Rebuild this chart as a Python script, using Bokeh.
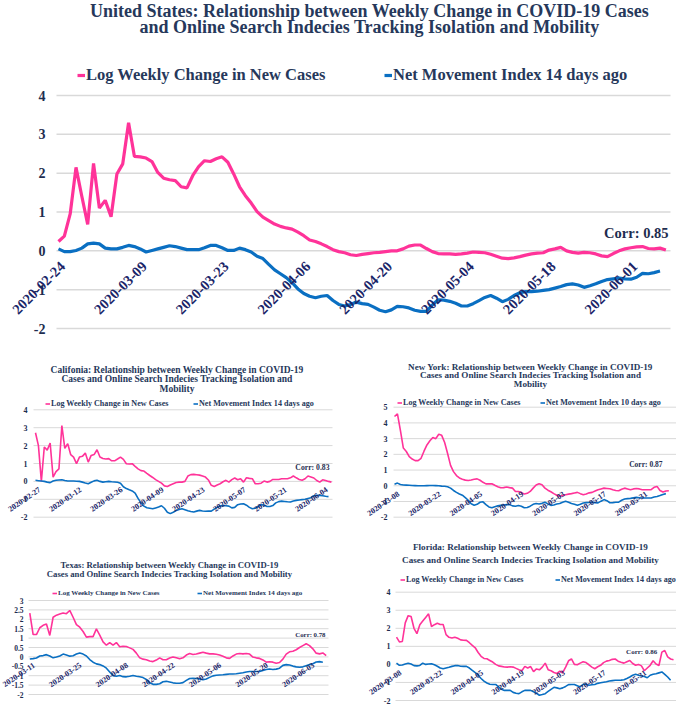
import math
import pandas as pd
from bokeh.plotting import figure
from bokeh.models import Range1d, Legend, LegendItem, ColumnDataSource
from bokeh.layouts import column, row
from bokeh.embed import file_html
from bokeh.resources import INLINE
from bokeh.core.properties import value

# ---------------- data ----------------
SERIES_NAMES = ["Log Weekly Change in New Cases", "Net Movement Index 14 days ago"]
SERIES_NAMES_NY = ["Log Weekly Change in New Cases", "Net Movement Index 10 days ago"]

us_title = ["United States: Relationship between Weekly Change in COVID-19 Cases",
            "and Online Search Indecies Tracking Isolation and Mobility"]
ca_title = ["Califonia: Relationship between Weekly Change in COVID-19",
            "Cases and Online Search Indecies Tracking Isolation and",
            "Mobility"]
ny_title = ["New York: Relationship between Weekly Change in COVID-19",
            "Cases and Online Search Indecies Tracking Isolation and",
            "Mobility"]
tx_title = ["Texas: Relationship between Weekly Change in COVID-19",
            "Cases and Online Search Indecies Tracking Isolation and Mobility"]
fl_title = ["Florida: Relationship between Weekly Change in COVID-19",
            "Cases and Online Search Indecies Tracking Isolation and Mobility"]

us_corr = "Corr: 0.85"
ca_corr = "Corr: 0.83"
ny_corr = "Corr: 0.87"
tx_corr = "Corr: 0.78"
fl_corr = "Corr: 0.86"

us_ticks = ["2020-02-24", "2020-03-09", "2020-03-23", "2020-04-06", "2020-04-20",
            "2020-05-04", "2020-05-18", "2020-06-01"]
ca_ticks = ["2020-02-27", "2020-03-12", "2020-03-26", "2020-04-09", "2020-04-23",
            "2020-05-07", "2020-05-21", "2020-06-04"]
ny_ticks = ["2020-03-08", "2020-03-22", "2020-04-05", "2020-04-19", "2020-05-03",
            "2020-05-17", "2020-05-31"]
tx_ticks = ["2020-03-11", "2020-03-25", "2020-04-08", "2020-04-22", "2020-05-06",
            "2020-05-20", "2020-06-03"]
fl_ticks = ["2020-03-08", "2020-03-22", "2020-04-05", "2020-04-19", "2020-05-03",
            "2020-05-17", "2020-05-31"]

int_yticks = [-2, -1, 0, 1, 2, 3, 4]
int_ylabels = ["-2", "-1", "0", "1", "2", "3", "4"]
ny_yticks = [-2, -1, 0, 1, 2, 3, 4, 5]
ny_ylabels = ["-2", "-1", "0", "1", "2", "3", "4", "5"]
tx_yticks = [-2, -1.5, -1, -0.5, 0, 0.5, 1, 1.5, 2, 2.5, 3]
tx_ylabels = ["-2", "-1.5", "-1", "-0.5", "0", "0.5", "1", "1.5", "2", "2.5", "3"]

us_cases = [0.24, 0.38, 0.95, 2.15, 1.4, 0.68, 2.25, 1.1, 1.3, 0.88,
            1.98, 2.24, 3.3, 2.43, 2.42, 2.39, 2.3, 2.02, 1.87, 1.83,
            1.81, 1.65, 1.62, 1.94, 2.17, 2.32, 2.3, 2.37, 2.42, 2.28,
            1.98, 1.65, 1.42, 1.23, 1.01, 0.87, 0.78, 0.69, 0.63, 0.59,
            0.56, 0.48, 0.39, 0.28, 0.24, 0.18, 0.11, 0.03, -0.02, -0.05,
            -0.1, -0.12, -0.09, -0.07, -0.05, -0.04, -0.02, 0.0, 0.0, 0.05,
            0.12, 0.15, 0.15, 0.06, -0.02, -0.07, -0.08, -0.08, -0.09, -0.08,
            -0.06, -0.03, -0.04, -0.05, -0.09, -0.14, -0.19, -0.2, -0.18, -0.15,
            -0.11, -0.08, -0.06, -0.05, 0.02, 0.05, 0.09, 0.0, -0.04, -0.06,
            -0.04, -0.05, -0.08, -0.13, -0.15, -0.07, 0.0, 0.05, 0.08, 0.1,
            0.11, 0.06, 0.05, 0.07, 0.02]
us_move = [0.05, -0.02, -0.02, 0.01, 0.07, 0.18, 0.2, 0.18, 0.07, 0.05,
           0.05, 0.09, 0.14, 0.11, 0.05, -0.03, 0.01, 0.05, 0.09, 0.13,
           0.11, 0.07, 0.03, 0.03, 0.03, 0.08, 0.14, 0.14, 0.08, 0.01,
           0.01, 0.07, 0.03, -0.03, -0.14, -0.2, -0.35, -0.49, -0.59, -0.69,
           -0.82, -0.98, -1.1, -1.17, -1.21, -1.17, -1.15, -1.28, -1.38, -1.42,
           -1.38, -1.32, -1.36, -1.38, -1.45, -1.53, -1.57, -1.52, -1.43, -1.44,
           -1.47, -1.53, -1.56, -1.56, -1.4, -1.26, -1.27, -1.3, -1.35, -1.42,
           -1.42, -1.36, -1.28, -1.2, -1.15, -1.22, -1.31, -1.25, -1.15, -1.08,
           -1.05, -1.05, -1.04, -1.02, -1.0, -0.96, -0.92, -0.87, -0.85, -0.88,
           -0.94, -0.9, -0.85, -0.79, -0.74, -0.72, -0.7, -0.72, -0.73, -0.68,
           -0.58, -0.59, -0.56, -0.52]

ca_cases = [2.72, 2.0, 0.0, 1.92, 1.75, 2.14, 0.24, 0.55, 0.7, 3.12,
            1.85, 2.1, 1.5, 1.36, 0.99, 1.36, 1.4, 1.58, 1.08, 1.45,
            1.5, 1.77, 1.36, 1.28, 1.25, 1.27, 1.15, 1.15, 1.25, 1.36,
            1.23, 0.99, 0.97, 0.99, 0.84, 0.7, 0.6, 0.58, 0.45, 0.33,
            0.22, 0.1, 0.0, -0.1, -0.25, -0.28, -0.2, -0.13, -0.06, -0.04,
            -0.04, 0.0, 0.3, 0.38, 0.39, 0.37, 0.35, 0.3, 0.24, 0.08,
            -0.22, -0.28, -0.2, -0.13, -0.02, 0.06, -0.04, 0.1, 0.19, 0.09,
            0.15, -0.04, 0.2, 0.17, 0.15, -0.13, -0.13, -0.1, 0.02, -0.04,
            0.0, 0.11, 0.11, 0.11, 0.15, 0.15, 0.15, 0.2, 0.3, 0.2,
            0.11, 0.06, 0.15, 0.3, 0.25, 0.19, 0.05, -0.04, 0.09, 0.05,
            0.0, -0.04]
ca_move = [0.06, 0.04, 0.02, 0.0, -0.04, -0.07, 0.02, 0.06, 0.08, 0.09,
           0.05, 0.02, 0.02, 0.02, 0.01, 0.0, -0.04, -0.09, -0.13, -0.05,
           0.03, 0.06, 0.0, -0.04, -0.02, 0.0, -0.02, -0.03, -0.05, -0.1,
           -0.3, -0.4, -0.47, -0.53, -0.65, -0.95, -1.2, -1.38, -1.47, -1.5,
           -1.53, -1.48, -1.43, -1.36, -1.5, -1.72, -1.8, -1.72, -1.63, -1.57,
           -1.53, -1.58, -1.64, -1.68, -1.71, -1.66, -1.62, -1.65, -1.67, -1.66,
           -1.66, -1.55, -1.45, -1.38, -1.34, -1.36, -1.38, -1.48, -1.45, -1.3,
           -1.26, -1.25, -1.33, -1.45, -1.53, -1.5, -1.4, -1.3, -1.32, -1.4,
           -1.4, -1.35, -1.2, -1.13, -1.1, -1.12, -1.14, -1.15, -1.1, -1.06,
           -1.04, -1.02, -1.0, -0.95, -0.91, -0.8, -0.78, -0.78, -0.8, -0.83,
           -0.85]

ny_cases = [4.41, 4.58, 3.53, 2.4, 2.18, 1.85, 1.7, 1.6, 1.6, 1.75,
            2.2, 2.6, 2.86, 3.07, 3.0, 3.28, 3.21, 2.75, 2.05, 1.3,
            0.9, 0.65, 0.5, 0.42, 0.36, 0.34, 0.37, 0.42, 0.44, 0.35,
            0.22, 0.12, 0.12, 0.13, 0.03, -0.06, -0.13, -0.12, -0.08, -0.12,
            -0.15, -0.36, -0.36, -0.42, -0.53, -0.48, -0.36, -0.15, 0.05, 0.13,
            0.06, -0.15, -0.28, -0.38, -0.5, -0.6, -0.67, -0.62, -0.57, -0.53,
            -0.5, -0.46, -0.42, -0.5, -0.57, -0.52, -0.45, -0.42, -0.33, -0.25,
            -0.2, -0.15, -0.17, -0.19, -0.25, -0.3, -0.32, -0.22, -0.15, -0.2,
            -0.25, -0.2, -0.17, -0.2, -0.25, -0.25, -0.25, -0.25, -0.1, -0.04,
            -0.3, -0.4, -0.33, -0.32]
ny_move = [0.1, 0.17, 0.08, 0.05, 0.04, 0.03, 0.02, 0.01, 0.0, 0.0,
           0.0, 0.01, 0.02, 0.02, 0.01, 0.0, -0.02, -0.03, -0.06, -0.15,
           -0.3, -0.42, -0.52, -0.6, -0.75, -0.92, -1.15, -1.24, -1.18, -1.05,
           -1.02, -1.2, -1.35, -1.4, -1.33, -1.28, -1.25, -1.22, -1.2, -1.2,
           -1.28, -1.3, -1.26, -1.3, -1.4, -1.38, -1.3, -1.18, -1.13, -1.16,
           -1.12, -1.05, -1.15, -1.25, -1.22, -1.16, -1.13, -1.05, -0.99, -1.05,
           -1.13, -1.18, -1.24, -1.18, -1.1, -1.07, -1.06, -1.05, -1.07, -1.09,
           -0.98, -0.88, -0.95, -1.08, -1.07, -1.05, -1.04, -0.92, -0.84, -0.82,
           -0.8, -0.77, -0.74, -0.76, -0.78, -0.78, -0.78, -0.78, -0.72, -0.68,
           -0.62, -0.55, -0.5]

tx_cases = [2.33, 1.19, 1.19, 1.55, 1.68, 1.75, 1.14, 2.11, 2.22, 2.28,
            2.34, 2.3, 2.47, 2.11, 1.72, 1.58, 1.35, 1.05, 1.08, 1.08,
            1.49, 1.16, 0.8, 0.62, 0.76, 0.62, 0.76, 0.54, 0.57, 0.55,
            0.48, 0.4, 0.2, -0.05, -0.12, -0.15, -0.22, -0.25, -0.17, -0.05,
            -0.15, -0.15, -0.06, 0.0, -0.05, -0.1, -0.05, 0.1, 0.18, 0.13,
            0.15, 0.2, 0.25, 0.2, 0.16, 0.16, 0.14, 0.1, 0.03, -0.05,
            -0.08, 0.05, 0.15, 0.18, 0.16, 0.18, 0.15, -0.01, -0.05, -0.08,
            -0.16, -0.28, -0.26, -0.28, -0.34, -0.3, -0.12, 0.15, 0.27, 0.3,
            0.38, 0.5, 0.6, 0.7, 0.6, 0.43, 0.2, 0.16, 0.21, 0.07]
tx_move = [-0.11, -0.09, -0.06, 0.05, 0.07, 0.12, 0.05, -0.05, -0.01, 0.05,
           0.15, 0.1, 0.04, 0.06, 0.15, 0.21, 0.15, 0.05, -0.14, -0.28,
           -0.37, -0.41, -0.48, -0.6, -0.8, -1.0, -1.03, -0.99, -1.05, -1.06,
           -1.03, -0.99, -1.03, -1.06, -1.1, -1.2, -1.38, -1.46, -1.46, -1.43,
           -1.32, -1.3, -1.34, -1.38, -1.4, -1.4, -1.37, -1.25, -1.15, -1.14,
           -1.15, -1.17, -1.22, -1.17, -1.09, -1.01, -0.98, -0.96, -0.95, -0.93,
           -0.91, -0.91, -0.9, -0.87, -0.84, -0.8, -0.78, -0.78, -0.78, -0.77,
           -0.72, -0.67, -0.64, -0.67, -0.65, -0.6, -0.45, -0.41, -0.43, -0.49,
           -0.53, -0.55, -0.53, -0.47, -0.41, -0.36, -0.27, -0.25, -0.28]

fl_cases = [1.51, 1.25, 1.27, 2.3, 2.7, 2.65, 2.0, 1.7, 2.2, 2.4,
            2.6, 2.8, 2.1, 2.2, 2.28, 2.21, 2.21, 1.65, 1.5, 1.46,
            1.51, 1.45, 1.36, 1.34, 1.33, 1.2, 1.05, 0.92, 0.66, 0.45,
            0.33, 0.31, 0.22, 0.13, 0.0, -0.08, -0.11, -0.14, -0.15, -0.13,
            -0.15, -0.22, -0.3, -0.35, -0.11, -0.2, -0.12, -0.4, -0.25, -0.3,
            -0.15, 0.07, -0.29, -0.35, -0.45, -0.5, -0.38, -0.46, -0.15, 0.2,
            0.3, 0.0, -0.02, 0.07, 0.15, 0.1, -0.02, -0.15, -0.24, -0.13,
            -0.05, 0.1, 0.18, 0.22, 0.28, 0.3, 0.18, 0.12, 0.07, 0.15,
            0.22, 0.05, -0.05, 0.0, -0.08, -0.35, -0.2, -0.05, 0.2, 0.02,
            -0.06, 0.68, 0.77, 0.42, 0.3, 0.26]
fl_move = [0.07, -0.05, -0.03, 0.02, 0.06, 0.02, -0.07, -0.08, -0.06, 0.07,
           0.0, 0.02, 0.04, -0.02, -0.1, -0.2, -0.24, -0.2, -0.16, -0.11,
           -0.07, -0.06, -0.1, -0.11, -0.11, -0.2, -0.33, -0.45, -0.6, -0.78,
           -0.93, -1.03, -1.1, -1.11, -1.11, -1.25, -1.38, -1.44, -1.44, -1.44,
           -1.55, -1.6, -1.62, -1.52, -1.44, -1.44, -1.44, -1.52, -1.6, -1.71,
           -1.67, -1.62, -1.5, -1.38, -1.27, -1.3, -1.35, -1.3, -1.22, -1.12,
           -1.11, -1.11, -1.18, -1.25, -1.1, -1.1, -1.16, -1.13, -1.11, -1.05,
           -1.02, -0.99, -0.96, -0.92, -0.9, -0.88, -0.88, -0.87, -0.85, -0.78,
           -0.7, -0.6, -0.55, -0.6, -0.64, -0.67, -0.74, -0.6, -0.55, -0.52,
           -0.47, -0.42, -0.55, -0.7, -0.88]

# ---------------- style ----------------
PINK = "#FF3399"
BLUE = "#0A6FC2"
TITLE_C = "#26385B"
AXIS_C = "#1E2D4F"
DATE_C = "#1A2568"
GRID_C = "#D9D9D9"
FONT = "Liberation Serif"


def txt(p, xs, ys, texts, size, color, align="center", **kw):
    p.text(x=xs, y=ys, text=texts, text_align=align, text_baseline="middle",
           text_font=value(FONT), text_font_style="bold", text_font_size=size,
           text_color=color, **kw)


def make_panel(s):
    W, H, offx, offy = s["box"]

    def fx(rx):
        return rx - offx

    def fy(ry):
        return ry - offy

    x0 = fx(s["d0"])
    ppd = s["ppd"]
    (va, ra), (vb, rb) = s["ymap"]
    pa, pb = fy(ra), fy(rb)
    ppu = (pb - pa) / (va - vb)

    def X(px):
        return (px - x0) / ppd

    def Y(py):
        return va - (py - pa) / ppu

    p = figure(width=W, height=H, x_range=Range1d(X(0), X(W)), y_range=Range1d(Y(H), Y(0)),
               x_axis_location=None, y_axis_location=None, output_backend="svg",
               toolbar_location=None, min_border=0)
    p.outline_line_color = None
    p.background_fill_color = "white"
    p.border_fill_color = "white"
    p.grid.visible = False

    # horizontal gridlines at the value ticks, over the plot area only
    yt = s["yticks"]
    gl, gr = X(fx(s["grid"][0])), X(min(W, fx(s["grid"][1])))
    p.segment(x0=[gl] * len(yt), x1=[gr] * len(yt), y0=yt, y1=yt,
              line_color=GRID_C, line_width=s["gw"])

    # value-axis labels
    txt(p, [X(fx(s["ylab_r"]))] * len(yt), yt, s["ylabels"], s["yfs"], AXIS_C, align="right")

    start = pd.Timestamp(s["ticks"][0])
    cases, move = s["cases"], s["move"]
    r1 = p.line(x=list(range(len(cases))), y=cases, line_color=PINK, line_width=s["lw"])
    r2 = p.line(x=list(range(len(move))), y=move, line_color=BLUE, line_width=s["lw"])

    # category labels where the horizontal axis crosses (value 0)
    tick_x = [(pd.Timestamp(t) - start).days for t in s["ticks"]]
    src = ColumnDataSource(dict(x=tick_x, y=[0] * len(tick_x), text=s["ticks"]))
    p.text(x="x", y="y", text="text", source=src, angle=s["angle"], text_align="right",
           text_baseline="middle", x_offset=s["toff"][0], y_offset=s["toff"][1],
           text_font=value(FONT), text_font_style="bold", text_font_size=s["dfs"],
           text_color=DATE_C)

    # title lines
    for line, ry in zip(s["title"], s["title_y"]):
        txt(p, [X(fx(s["title_cx"]))], [Y(fy(ry))], [line], s["tfs"], TITLE_C)

    # correlation note
    txt(p, [X(fx(s["corr_x"]))], [s["corr_v"]], [s["corr"]], s["cfs"], AXIS_C, align="right")

    # legends (one per entry)
    h = s["lh"]
    for name, r, mx in zip(s["names"], (r1, r2), s["leg_x"]):
        cy = fy(s["leg_y"])
        leg = Legend(items=[LegendItem(label=name, renderers=[r])],
                     location=(fx(mx), H - cy - h / 2), orientation="horizontal",
                     glyph_width=s["gwid"], glyph_height=h, label_height=h, label_width=10,
                     label_standoff=1, padding=0, margin=0, spacing=0,
                     border_line_color=None, background_fill_alpha=0,
                     label_text_font=FONT, label_text_font_style="bold",
                     label_text_font_size=s["lfs"], label_text_color=TITLE_C)
        p.add_layout(leg)
    return p


main = make_panel(dict(
    box=(676, 345, 0, 0), grid=(56, 670), d0=58, ppd=5.84,
    ymap=((4, 95), (-2, 328)), yticks=int_yticks, ylabels=int_ylabels,
    ylab_r=45, yfs="14px", gw=1.5, lw=3.2,
    cases=us_cases, move=us_move, ticks=us_ticks, angle=math.pi / 4, toff=(4, 13), dfs="14.5px",
    title=us_title, title_y=(10, 26.5), title_cx=369, tfs="18px",
    corr=us_corr, corr_x=668, corr_v=0.47, cfs="14.5px",
    names=SERIES_NAMES, leg_x=(77, 384), leg_y=77, lh=16, gwid=8, lfs="16.5px"))

ca = make_panel(dict(
    box=(338, 185, 0, 345), grid=(33, 332), d0=35, ppd=2.93,
    ymap=((4, 409.3), (-2, 516.7)), yticks=int_yticks, ylabels=int_ylabels,
    ylab_r=27, yfs="8px", gw=1, lw=1.6,
    cases=ca_cases, move=ca_move, ticks=ca_ticks, angle=0.6, toff=(4, 7), dfs="8px",
    title=ca_title, title_y=(369, 378.5, 388), title_cx=176.5, tfs="9.5px",
    corr=ca_corr, corr_x=329, corr_v=0.76, cfs="7.7px",
    names=SERIES_NAMES, leg_x=(45, 193), leg_y=403.7, lh=9, gwid=5, lfs="8.1px"))

ny = make_panel(dict(
    box=(338, 185, 338, 345), grid=(393, 676), d0=394, ppd=2.95,
    ymap=((5, 406.7), (-2, 516.7)), yticks=ny_yticks, ylabels=ny_ylabels,
    ylab_r=387, yfs="8px", gw=1, lw=1.6,
    cases=ny_cases, move=ny_move, ticks=ny_ticks, angle=0.6, toff=(4, 7), dfs="8px",
    title=ny_title, title_y=(366.7, 374.3, 383.3), title_cx=530, tfs="9.1px",
    corr=ny_corr, corr_x=662, corr_v=1.37, cfs="7.5px",
    names=SERIES_NAMES_NY, leg_x=(397, 540), leg_y=402.7, lh=9, gwid=5, lfs="8.1px"))

tx = make_panel(dict(
    box=(338, 175, 0, 530), grid=(28, 328), d0=29.3, ppd=3.33,
    ymap=((3, 600), (-2, 694)), yticks=tx_yticks, ylabels=tx_ylabels,
    ylab_r=23, yfs="7.5px", gw=1, lw=1.6,
    cases=tx_cases, move=tx_move, ticks=tx_ticks, angle=0.6, toff=(4, 7), dfs="8px",
    title=tx_title, title_y=(564, 573.3), title_cx=169, tfs="8.7px",
    corr=tx_corr, corr_x=325, corr_v=1.17, cfs="6.8px",
    names=SERIES_NAMES, leg_x=(52, 197), leg_y=592.7, lh=8, gwid=5, lfs="7px"))

fl = make_panel(dict(
    box=(338, 175, 338, 530), grid=(395, 676), d0=396, ppd=2.916,
    ymap=((4, 591.7), (-2, 700)), yticks=int_yticks, ylabels=int_ylabels,
    ylab_r=390, yfs="8px", gw=1, lw=1.6,
    cases=fl_cases, move=fl_move, ticks=fl_ticks, angle=0.6, toff=(4, 7), dfs="8px",
    title=fl_title, title_y=(546, 559.3), title_cx=530, tfs="9.1px",
    corr=fl_corr, corr_x=656.7, corr_v=0.68, cfs="7px",
    names=SERIES_NAMES, leg_x=(400, 555), leg_y=579.3, lh=9, gwid=5, lfs="8.1px"))

layout = column(main, row(ca, ny), row(tx, fl))
open("out.html", "w").write(file_html(layout, INLINE))
